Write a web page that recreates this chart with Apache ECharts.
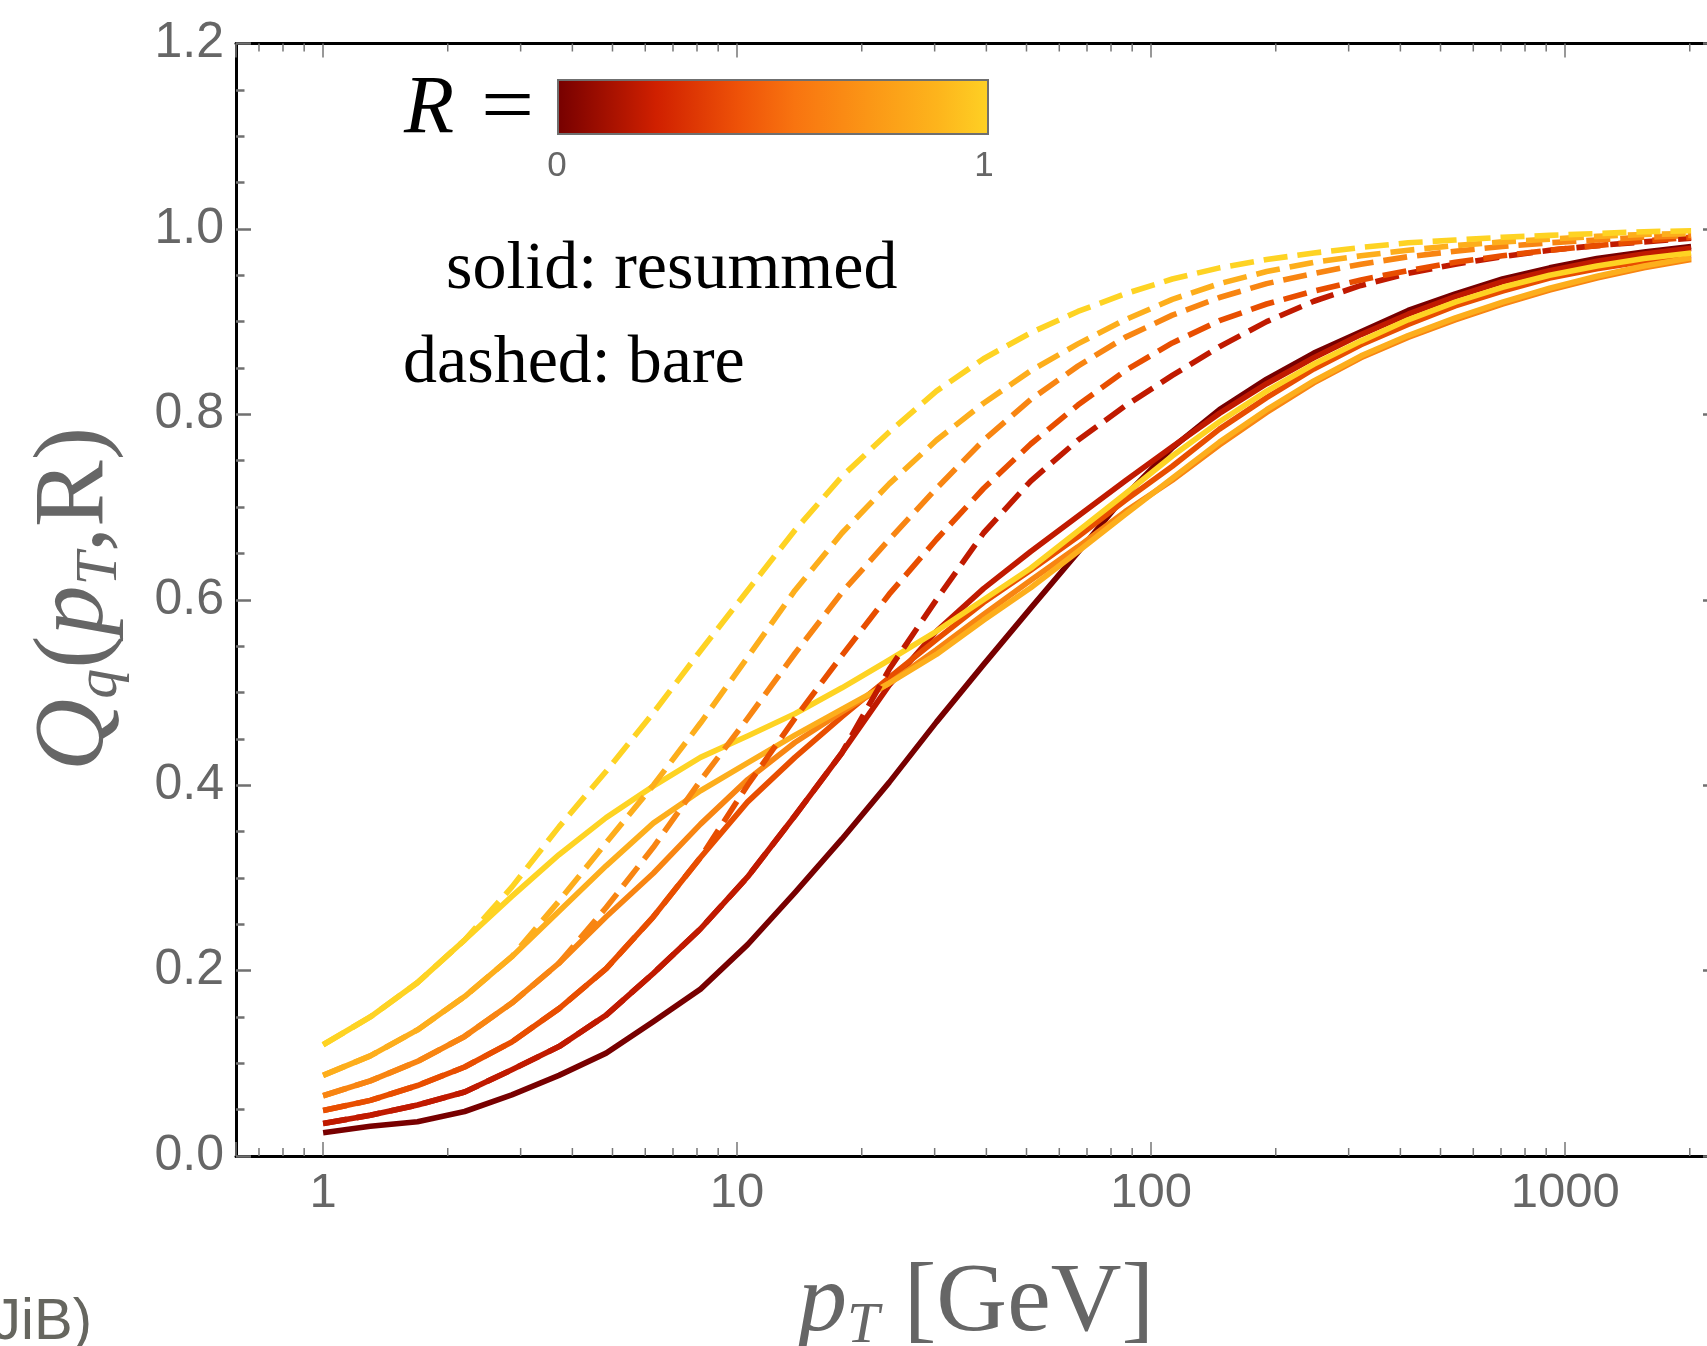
<!DOCTYPE html>
<html>
<head>
<meta charset="utf-8">
<title>Q_q(pT,R)</title>
<script src="https://cdn.jsdelivr.net/npm/echarts@6.0.0/dist/echarts.min.js"></script>
<style>
    html, body { margin: 0; padding: 0; background: #fff; }
    #chart { width: 1707px; height: 1346px; }
</style>
</head>
<body>
<div id="chart"></div>
<script>
    // pT grid (GeV), log spaced
    var pT = [1, 1.3, 1.69, 2.197, 2.856, 3.713, 4.827, 6.275, 8.157, 10.6, 13.79, 17.92, 23.3, 30.29, 39.37,
        51.19, 66.54, 86.5, 112.5, 146.2, 190.1, 247.1, 321.2, 417.5, 542.8, 705.6, 917.3, 1193, 1550, 2015];

    // resummed (solid)
    var resummedR00 = [0.025, 0.032, 0.037, 0.048, 0.066, 0.087, 0.111, 0.145, 0.180, 0.228, 0.284, 0.342, 0.403, 0.468, 0.530,
        0.591, 0.651, 0.712, 0.764, 0.805, 0.838, 0.866, 0.889, 0.912, 0.930, 0.946, 0.958, 0.968, 0.975, 0.981];
    var resummedR02 = [0.035, 0.044, 0.055, 0.069, 0.093, 0.118, 0.152, 0.197, 0.245, 0.301, 0.367, 0.435, 0.508, 0.566, 0.612,
        0.652, 0.690, 0.728, 0.765, 0.801, 0.833, 0.861, 0.886, 0.908, 0.927, 0.943, 0.955, 0.965, 0.973, 0.979];
    var resummedR04 = [0.049, 0.060, 0.076, 0.096, 0.123, 0.159, 0.202, 0.258, 0.322, 0.382, 0.430, 0.474, 0.516, 0.557, 0.597,
        0.632, 0.668, 0.707, 0.744, 0.784, 0.818, 0.849, 0.875, 0.897, 0.917, 0.933, 0.947, 0.957, 0.965, 0.971];
    var resummedR06 = [0.065, 0.081, 0.102, 0.129, 0.165, 0.208, 0.258, 0.305, 0.358, 0.406, 0.446, 0.479, 0.510, 0.546, 0.584,
        0.621, 0.657, 0.695, 0.729, 0.767, 0.802, 0.834, 0.861, 0.883, 0.902, 0.919, 0.934, 0.947, 0.958, 0.967];
    var resummedR08 = [0.087, 0.108, 0.136, 0.172, 0.215, 0.264, 0.313, 0.359, 0.394, 0.424, 0.454, 0.482, 0.510, 0.541, 0.578,
        0.613, 0.652, 0.692, 0.731, 0.770, 0.805, 0.836, 0.863, 0.885, 0.904, 0.921, 0.936, 0.949, 0.960, 0.969];
    var resummedR10 = [0.120, 0.150, 0.187, 0.233, 0.280, 0.325, 0.365, 0.399, 0.430, 0.453, 0.477, 0.505, 0.535, 0.566, 0.600,
        0.634, 0.674, 0.714, 0.755, 0.792, 0.825, 0.854, 0.879, 0.902, 0.921, 0.937, 0.950, 0.960, 0.968, 0.974];

    // bare (dashed)
    var bareR02 = [0.035, 0.044, 0.055, 0.069, 0.093, 0.118, 0.152, 0.197, 0.245, 0.301, 0.367, 0.435, 0.525, 0.600, 0.672,
        0.728, 0.772, 0.809, 0.842, 0.873, 0.900, 0.922, 0.939, 0.952, 0.962, 0.970, 0.977, 0.982, 0.986, 0.990];
    var bareR04 = [0.049, 0.060, 0.076, 0.096, 0.123, 0.159, 0.202, 0.258, 0.322, 0.400, 0.472, 0.540, 0.606, 0.665, 0.720,
        0.768, 0.810, 0.847, 0.877, 0.901, 0.919, 0.933, 0.945, 0.955, 0.964, 0.971, 0.977, 0.982, 0.987, 0.991];
    var bareR06 = [0.065, 0.081, 0.102, 0.129, 0.165, 0.208, 0.268, 0.333, 0.405, 0.472, 0.542, 0.608, 0.665, 0.720, 0.772,
        0.816, 0.852, 0.883, 0.907, 0.926, 0.941, 0.952, 0.962, 0.970, 0.976, 0.981, 0.985, 0.988, 0.991, 0.993];
    var bareR08 = [0.087, 0.108, 0.136, 0.172, 0.215, 0.275, 0.338, 0.400, 0.467, 0.538, 0.610, 0.672, 0.725, 0.772, 0.812,
        0.847, 0.876, 0.902, 0.924, 0.941, 0.954, 0.964, 0.971, 0.977, 0.982, 0.986, 0.989, 0.992, 0.994, 0.995];
    var bareR10 = [0.120, 0.150, 0.187, 0.233, 0.290, 0.355, 0.415, 0.478, 0.545, 0.610, 0.675, 0.733, 0.781, 0.825, 0.860,
        0.888, 0.911, 0.930, 0.946, 0.958, 0.967, 0.974, 0.980, 0.985, 0.988, 0.991, 0.993, 0.995, 0.997, 0.998];

    var xMinorTicks = [0.7, 0.8, 0.9, 2, 3, 4, 5, 6, 7, 8, 9, 20, 30, 40, 50, 60, 70, 80, 90,
        200, 300, 400, 500, 600, 700, 800, 900, 2000];
    var yTickLabels = ['0.0', '0.2', '0.4', '0.6', '0.8', '1.0', '1.2'];

    var colorR00 = '#780000', colorR02 = '#c01a00', colorR04 = '#e84e00',
        colorR06 = '#f88512', colorR08 = '#fdae1c', colorR10 = '#fed323';

    var serif = '"Liberation Serif", "DejaVu Serif", serif',
        sans = '"Liberation Sans", Arial, sans-serif',
        gray = '#666666';

    var chart = echarts.init(document.getElementById('chart'), null, {renderer: 'canvas'});

    var pairs = function (vals) {
        var out = [], i;
        for (i = 0; i < pT.length; i++) {
            out.push([pT[i], vals[i]]);
        }
        return out;
    };

    var lineSeries = function (name, vals, color, dashed) {
        return {
            name: name,
            type: 'line',
            xAxisIndex: 0,
            yAxisIndex: 0,
            data: pairs(vals),
            showSymbol: false,
            symbol: 'none',
            smooth: false,
            silent: true,
            z: dashed ? 4 : 3,
            lineStyle: {
                color: color,
                width: 5.6,
                type: dashed ? [24, 10] : 'solid',
                cap: 'butt',
                join: 'round'
            }
        };
    };

    var decadeLabel = function (v) {
        var l = Math.log(v) / Math.LN10;
        if (Math.abs(l - Math.round(l)) < 1e-6) {
            return String(Math.round(v));
        }
        return '';
    };

    var xAxisBase = function (pos, showLabel) {
        return {
            type: 'log',
            logBase: 10,
            position: pos,
            min: 0.616,
            max: 2340,
            axisLine: {show: true, onZero: false, lineStyle: {color: '#000', width: 3}},
            axisTick: {show: true, inside: true, length: 14, lineStyle: {color: '#777', width: 1.5}},
            minorTick: {show: false},
            splitLine: {show: false},
            axisLabel: {
                show: showLabel,
                formatter: decadeLabel,
                color: gray,
                fontSize: 49,
                fontFamily: sans,
                margin: 13
            }
        };
    };

    var yAxisBase = function (pos, showLabel) {
        return {
            type: 'value',
            position: pos,
            min: 0,
            max: 1.2,
            interval: 0.2,
            axisLine: {show: true, onZero: false, lineStyle: {color: '#000', width: 3}},
            axisTick: {show: true, inside: true, length: 15, lineStyle: {color: '#707070', width: 2.5}},
            minorTick: {show: true, splitNumber: 4, length: 8.5, lineStyle: {color: '#707070', width: 2.5}},
            splitLine: {show: false},
            axisLabel: {
                show: showLabel,
                formatter: function (v) {
                    return yTickLabels[Math.round(v / 0.2)];
                },
                color: gray,
                fontSize: 50,
                fontFamily: sans,
                margin: 12
            }
        };
    };

    // minor log ticks on bottom and top frame
    var minorTickSeries = {
        type: 'custom',
        xAxisIndex: 0,
        yAxisIndex: 0,
        silent: true,
        clip: false,
        z: 5,
        data: xMinorTicks.map(function (v) { return [v, 0]; }),
        renderItem: function (params, api) {
            var x = api.coord([api.value(0), 0])[0],
                cs = params.coordSys,
                st = {stroke: '#777', lineWidth: 1.5};
            return {
                type: 'group',
                children: [
                    {type: 'line', shape: {x1: x, y1: cs.y + cs.height, x2: x, y2: cs.y + cs.height - 8}, style: st},
                    {type: 'line', shape: {x1: x, y1: cs.y, x2: x, y2: cs.y + 8}, style: st}
                ]
            };
        }
    };

    var barGradient = new echarts.graphic.LinearGradient(0, 0, 1, 0, [
        {offset: 0, color: '#760000'},
        {offset: 0.23, color: '#d02000'},
        {offset: 0.42, color: '#ee5208'},
        {offset: 0.55, color: '#f87410'},
        {offset: 0.72, color: '#fb9616'},
        {offset: 0.88, color: '#fdb41c'},
        {offset: 1, color: '#fed124'}
    ]);

    var txt = function (x, y, text, font, fill, align) {
        return {
            type: 'text', x: x, y: y, z: 10,
            style: {
                text: text, fill: fill, font: font,
                align: align, verticalAlign: 'middle',
                textAlign: align, textVerticalAlign: 'middle'
            }
        };
    };

    var eqSign = txt(481, 110, '=', '82px ' + serif, '#000', 'left');
    eqSign.scaleX = 1.15;

    var option = {
        animation: false,
        backgroundColor: '#fff',
        grid: {
            left: 236,
            right: -11,
            top: 43.5,
            bottom: 190,
            containLabel: false,
            outerBoundsMode: 'none'
        },
        xAxis: [xAxisBase('bottom', true), xAxisBase('top', false)],
        yAxis: [yAxisBase('left', true), yAxisBase('right', false)],
        series: [
            lineSeries('R=0 resummed', resummedR00, colorR00, false),
            lineSeries('R=0.2 resummed', resummedR02, colorR02, false),
            lineSeries('R=0.4 resummed', resummedR04, colorR04, false),
            lineSeries('R=0.6 resummed', resummedR06, colorR06, false),
            lineSeries('R=0.8 resummed', resummedR08, colorR08, false),
            lineSeries('R=1 resummed', resummedR10, colorR10, false),
            lineSeries('R=0.2 bare', bareR02, colorR02, true),
            lineSeries('R=0.4 bare', bareR04, colorR04, true),
            lineSeries('R=0.6 bare', bareR06, colorR06, true),
            lineSeries('R=0.8 bare', bareR08, colorR08, true),
            lineSeries('R=1 bare', bareR10, colorR10, true),
            minorTickSeries
        ],
        graphic: [
            {
                type: 'rect',
                shape: {x: 558, y: 80, width: 430, height: 54},
                style: {fill: barGradient, stroke: '#6f6f6f', lineWidth: 2},
                z: 10
            },
            txt(557, 166, '0', '35px ' + sans, gray, 'center'),
            txt(984, 166, '1', '35px ' + sans, gray, 'center'),
            txt(404, 110, 'R', 'italic 82px ' + serif, '#000', 'left'),
            eqSign,
            txt(446, 270, 'solid: resummed', '68px ' + serif, '#000', 'left'),
            txt(403, 364, 'dashed: bare', '68px ' + serif, '#000', 'left'),
            {
                // x axis title
                type: 'text', x: 976, y: 1304, z: 10,
                style: {
                    text: '{it|p}{sub|T}{rm| [GeV]}',
                    fill: '#666',
                    align: 'center', verticalAlign: 'middle', textAlign: 'center', textVerticalAlign: 'middle',
                    rich: {
                        it: {fontFamily: serif, fontStyle: 'italic', fontSize: 98, fill: '#666', verticalAlign: 'middle'},
                        sub: {fontFamily: serif, fontStyle: 'italic', fontSize: 58, fill: '#666', verticalAlign: 'middle', padding: [46, 0, 0, 0]},
                        rm: {fontFamily: serif, fontSize: 98, fill: '#666', verticalAlign: 'middle'}
                    }
                }
            },
            {
                // y axis title
                type: 'text', x: 76, y: 599, rotation: Math.PI / 2, z: 10,
                style: {
                    text: '{it|Q}{sub|q}{rm|(}{it|p}{sub|T}{rm|,R)}',
                    fill: '#666',
                    align: 'center', verticalAlign: 'middle', textAlign: 'center', textVerticalAlign: 'middle',
                    rich: {
                        it: {fontFamily: serif, fontStyle: 'italic', fontSize: 100, fill: '#666', verticalAlign: 'middle'},
                        sub: {fontFamily: serif, fontStyle: 'italic', fontSize: 60, fill: '#666', verticalAlign: 'middle', padding: [48, 0, 0, 0]},
                        rm: {fontFamily: serif, fontSize: 100, fill: '#666', verticalAlign: 'middle'}
                    }
                }
            },
            txt(92, 1323, '(JiB)', '58px ' + sans, '#66665f', 'right')
        ]
    };

    chart.setOption(option);
</script>
</body>
</html>
